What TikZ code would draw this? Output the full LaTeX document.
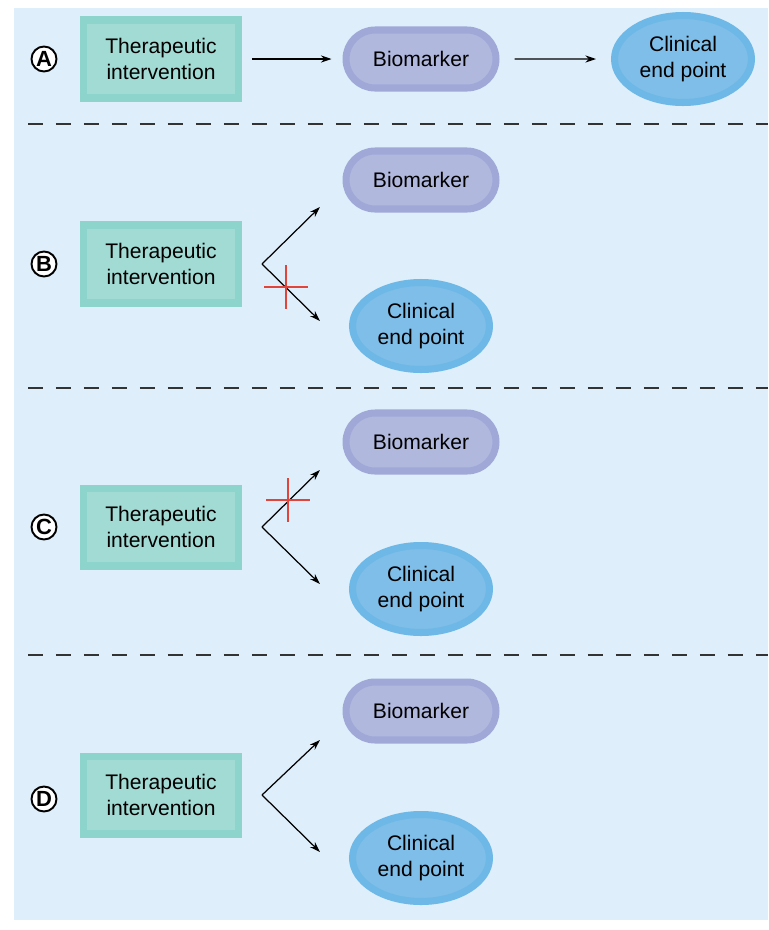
\documentclass[tikz,border=0pt]{standalone}
\usepackage{fontspec}
\setmainfont{Liberation Sans}
\usepackage{xcolor}
\usetikzlibrary{
	arrows.meta,
	shapes.geometric,
	shapes.misc,
	calc
}
\definecolor{panelbg}{HTML}{DEEEFA}
\definecolor{boxedge}{HTML}{8CD4CC}
\definecolor{boxface}{HTML}{A1DBD4}
\definecolor{bioedge}{HTML}{A0A8D8}
\definecolor{bioface}{HTML}{B1B8DE}
\definecolor{endedge}{HTML}{6DB8E6}
\definecolor{endface}{HTML}{7FBEE8}
\definecolor{crossred}{HTML}{E0443A}

\begin{document}
\begin{tikzpicture}[x=0.02cm, y=-0.02cm,
                txt/.style={font=\fontsize{12}{14.5}\selectfont, align=center, text=black},
                therapy/.style={txt, rectangle, draw=boxedge, fill=boxface, line width=4pt,
                        minimum width=3.1cm, minimum height=1.56cm, inner sep=0pt},
                marker/.style={txt, rounded rectangle, draw=bioedge, fill=bioface, line width=4pt,
                        minimum width=3cm, minimum height=1.16cm, inner sep=0pt},
                endpoint/.style={txt, ellipse, draw=endedge, fill=endface, line width=4pt,
                        minimum width=2.74cm, minimum height=1.74cm, inner sep=0pt},
                letter/.style={circle, draw=black, fill=white, line width=1.1pt,
                        minimum size=0.5cm, inner sep=0pt, font=\bfseries\fontsize{12.5}{12.5}\selectfont},
                arr/.style={-{Stealth[length=6pt, width=4pt]}, line width=0.7pt},
                sep/.style={black!80, line width=0.85pt, dash pattern=on 0.3cm off 0.26cm},
                nope/.style={draw=crossred, line width=1.4pt}]
                \useasboundingbox (0,0) rectangle (768,930);
                \fill[panelbg] (14,8) rectangle (768,920);

                % separators
                \draw[sep] (28,124) -- (768,124);
                \draw[sep] (28,388) -- (768,388);
                \draw[sep] (28,655) -- (768,655);

                % A
                \node[letter] (labA) at (44,59) {A};
                \node[therapy] (therA) at (161,59) {Therapeutic\\intervention};
                \node[marker] (bioA) at (421,59) {Biomarker};
                \node[endpoint] (endA) at (683,59) {Clinical\\end point};
                \draw[arr, shorten <=0.2cm, shorten >=0.22cm] (therA) -- (bioA);
                \draw[arr, shorten <=0.3cm, shorten >=0.3cm] (bioA) -- (endA);

                % B
                \node[letter] (labB) at (44,264) {B};
                \node[therapy] (therB) at (161,264) {Therapeutic\\intervention};
                \node[marker] (bioB) at (421,180) {Biomarker};
                \node[endpoint] (endB) at (421,326) {Clinical\\end point};
                \coordinate (jB) at (262,264);
                \coordinate (upB) at (320,207);
                \coordinate (dnB) at (320,321);
                \draw[arr] (jB) -- (upB);
                \draw[arr] (jB) -- (dnB);
                \draw[nope] (264,287) -- (308,287);
                \draw[nope] (286,265) -- (286,309);

                % C
                \node[letter] (labC) at (44,527) {C};
                \node[therapy] (therC) at (161,527) {Therapeutic\\intervention};
                \node[marker] (bioC) at (421,442) {Biomarker};
                \node[endpoint] (endC) at (421,589) {Clinical\\end point};
                \coordinate (jC) at (262,527);
                \coordinate (upC) at (320,470);
                \coordinate (dnC) at (320,584);
                \draw[arr] (jC) -- (upC);
                \draw[arr] (jC) -- (dnC);
                \draw[nope] (266,500) -- (310,500);
                \draw[nope] (288,478) -- (288,522);

                % D
                \node[letter] (labD) at (44,799) {D};
                \node[therapy] (therD) at (161,795) {Therapeutic\\intervention};
                \node[marker] (bioD) at (421,711) {Biomarker};
                \node[endpoint] (endD) at (421,858) {Clinical\\end point};
                \coordinate (jD) at (262,795);
                \coordinate (upD) at (320,740);
                \coordinate (dnD) at (320,852);
                \draw[arr] (jD) -- (upD);
                \draw[arr] (jD) -- (dnD);
            \end{tikzpicture}
\end{document}
